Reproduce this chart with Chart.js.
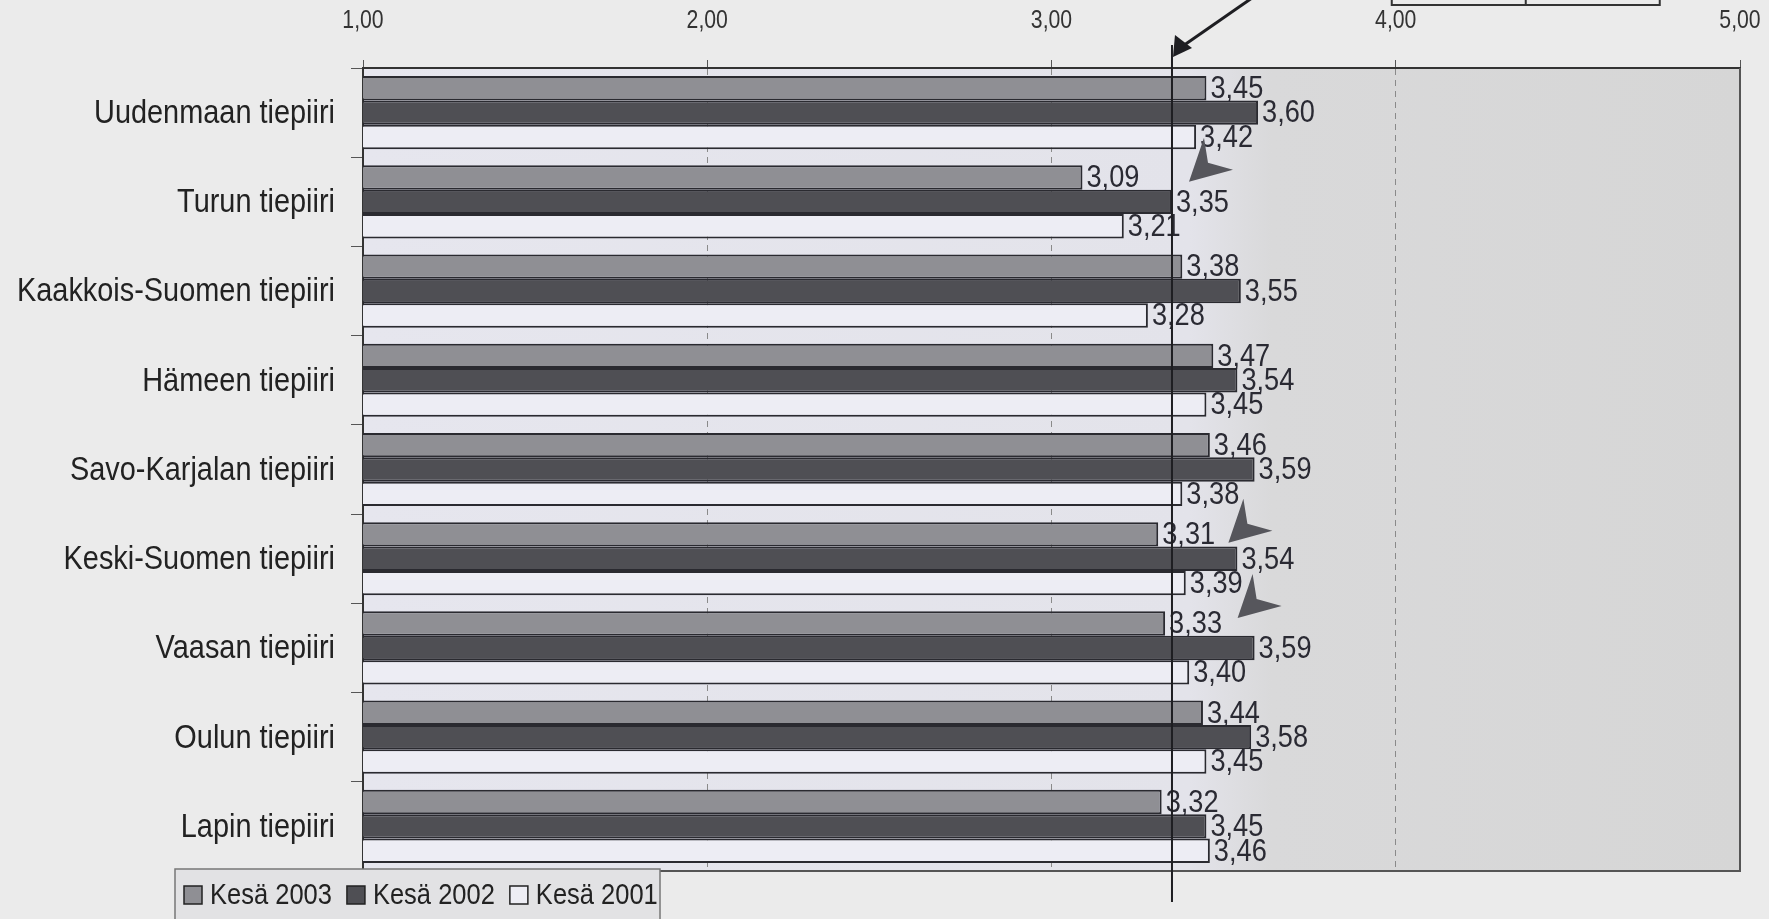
<!DOCTYPE html>
<html>
<head>
<meta charset="utf-8">
<script src="https://cdn.jsdelivr.net/npm/chart.js@4.4.1/dist/chart.umd.min.js"></script>
<style>
  html, body { margin: 0; padding: 0; background: #ebebeb; }
  #wrap { width: 1769px; height: 919px; position: relative; }
</style>
</head>
<body>
<div id="wrap"><canvas id="chart" width="1769" height="919"></canvas></div>
<script>
const categories = [
  "Uudenmaan tiepiiri",
  "Turun tiepiiri",
  "Kaakkois-Suomen tiepiiri",
  "Hämeen tiepiiri",
  "Savo-Karjalan tiepiiri",
  "Keski-Suomen tiepiiri",
  "Vaasan tiepiiri",
  "Oulun tiepiiri",
  "Lapin tiepiiri",
];
const seriesNames = ["Kesä 2003", "Kesä 2002", "Kesä 2001"];
const kesa2003 = [3.45, 3.09, 3.38, 3.47, 3.46, 3.31, 3.33, 3.44, 3.32];
const kesa2002 = [3.60, 3.35, 3.55, 3.54, 3.59, 3.54, 3.59, 3.58, 3.45];
const kesa2001 = [3.42, 3.21, 3.28, 3.45, 3.38, 3.39, 3.40, 3.45, 3.46];
const tickLabels = ["1,00", "2,00", "3,00", "4,00", "5,00"];
const refValue = 3.35;

// no narrow font installed, so squeeze Liberation Sans sideways
const FONT = "'Liberation Sans', Arial, sans-serif";
const SQUEEZE = 0.85;
const fills = ["#8f8f94", "#4f4f54", "#ededf4"];

const fmt = (v) => v.toFixed(2).replace(".", ",");

function narrowText(ctx, text, x, y, align) {
  ctx.save();
  ctx.translate(x, y);
  ctx.scale(SQUEEZE, 1);
  ctx.textAlign = align || "left";
  ctx.fillText(text, 0, 0);
  ctx.restore();
}
const narrowWidth = (ctx, text) => ctx.measureText(text).width * SQUEEZE;

// plot background, borders
const backdrop = {
  id: "backdrop",
  beforeDraw(chart) {
    const { ctx, chartArea: a } = chart;
    ctx.save();
    const g = ctx.createLinearGradient(a.left, 0, a.right, 0);
    g.addColorStop(0, "#e6e6ee");
    g.addColorStop(0.6, "#e3e3ea");
    g.addColorStop(0.66, "#d9d9da");
    g.addColorStop(1, "#d6d6d6");
    ctx.fillStyle = g;
    ctx.fillRect(a.left, a.top, a.right - a.left, a.bottom - a.top);
    ctx.restore();
  },
  afterDraw(chart) {
    const { ctx, chartArea: a } = chart;
    ctx.save();
    ctx.strokeStyle = "#555";
    ctx.lineWidth = 2;
    ctx.beginPath();
    ctx.moveTo(a.right, a.top);
    ctx.lineTo(a.right, a.bottom);
    ctx.lineTo(a.left, a.bottom);
    ctx.stroke();
    ctx.restore();
  },
};

// axis tick labels, drawn narrow at the scales' own positions
const axisLabels = {
  id: "axisLabels",
  afterDraw(chart) {
    const { ctx, scales, chartArea: a } = chart;
    ctx.save();
    ctx.textBaseline = "middle";
    ctx.fillStyle = "#333";
    ctx.font = "25px " + FONT;
    scales.x.ticks.forEach((t, i) => {
      narrowText(ctx, tickLabels[i], scales.x.getPixelForValue(t.value), 21, "center");
    });
    ctx.fillStyle = "#222";
    ctx.font = "34px " + FONT;
    categories.forEach((c, i) => {
      narrowText(ctx, c, a.left - 28, scales.y.getPixelForValue(i) + 1, "right");
    });
    ctx.restore();
  },
};

// value labels at the bar ends
const valueLabels = {
  id: "valueLabels",
  afterDatasetsDraw(chart) {
    const { ctx } = chart;
    ctx.save();
    ctx.font = "32px " + FONT;
    ctx.fillStyle = "#2a2a33";
    ctx.textBaseline = "middle";
    chart.data.datasets.forEach((ds, i) => {
      chart.getDatasetMeta(i).data.forEach((el, j) => {
        narrowText(ctx, fmt(ds.data[j]), el.x + 4, el.y + 1, "left");
      });
    });
    ctx.restore();
  },
};

function arrowHead(ctx, x, y) {
  ctx.beginPath();
  ctx.moveTo(x, y);
  ctx.lineTo(x + 15, y - 44);
  ctx.lineTo(x + 19, y - 19);
  ctx.lineTo(x + 44, y - 12);
  ctx.closePath();
  ctx.fill();
}

// reference line, pointer arrow, marks and legend
const notes = {
  id: "notes",
  afterDraw(chart) {
    const { ctx, chartArea: a, scales } = chart;
    const x = scales.x.getPixelForValue(refValue);
    ctx.save();
    ctx.strokeStyle = "#1e1e22";
    ctx.lineWidth = 2;
    ctx.beginPath();
    ctx.moveTo(x, a.top - 23);
    ctx.lineTo(x, a.bottom + 31);
    ctx.stroke();

    // pointer from above
    ctx.lineWidth = 3;
    ctx.beginPath();
    ctx.moveTo(x + 80, -2);
    ctx.lineTo(x + 8, a.top - 20);
    ctx.stroke();
    ctx.fillStyle = "#1e1e22";
    ctx.beginPath();
    ctx.moveTo(x + 1, a.top - 11);
    ctx.lineTo(x + 3, a.top - 33);
    ctx.lineTo(x + 20, a.top - 20);
    ctx.closePath();
    ctx.fill();

    // cut-off box at the top
    const bx = scales.x.getPixelForValue(4) - 4;
    ctx.lineWidth = 2;
    ctx.strokeStyle = "#333";
    ctx.beginPath();
    ctx.moveTo(bx, 0);
    ctx.lineTo(bx, 5);
    ctx.lineTo(bx + 268, 5);
    ctx.lineTo(bx + 268, 0);
    ctx.moveTo(bx + 134, 0);
    ctx.lineTo(bx + 134, 5);
    ctx.stroke();

    // marks on some 2002 bars
    const meta = chart.getDatasetMeta(1);
    ctx.fillStyle = "#56565c";
    [[1, 17, -20], [5, -9, -16], [6, -17, -30]].forEach(([i, dx, dy]) => {
      const el = meta.data[i];
      arrowHead(ctx, el.x + dx, el.y + dy);
    });
    ctx.restore();

    // legend box
    const lx = 175, ly = a.bottom - 2, lw = 485, lh = 52;
    ctx.save();
    ctx.fillStyle = "#e2e2e4";
    ctx.strokeStyle = "#777";
    ctx.lineWidth = 1.5;
    ctx.fillRect(lx, ly, lw, lh);
    ctx.strokeRect(lx, ly, lw, lh);
    ctx.font = "30px " + FONT;
    ctx.textBaseline = "middle";
    let cx = lx + 9;
    const cy = ly + lh / 2;
    chart.data.datasets.forEach((ds) => {
      ctx.fillStyle = ds.backgroundColor;
      ctx.fillRect(cx, cy - 9, 18, 18);
      ctx.strokeStyle = "#222";
      ctx.lineWidth = 1.5;
      ctx.strokeRect(cx, cy - 9, 18, 18);
      ctx.fillStyle = "#222";
      narrowText(ctx, ds.label, cx + 26, cy + 1, "left");
      cx += 26 + narrowWidth(ctx, ds.label) + 15;
    });
    ctx.restore();
  },
};

const seriesData = [kesa2003, kesa2002, kesa2001];

new Chart(document.getElementById("chart"), {
  type: "bar",
  data: {
    labels: categories,
    datasets: seriesData.map((d, i) => ({
      label: seriesNames[i],
      data: d,
      backgroundColor: fills[i],
      borderColor: "#2a2a30",
      borderWidth: 2,
      borderSkipped: "left",
      categoryPercentage: 0.82,
      barPercentage: 1.0,
    })),
  },
  options: {
    indexAxis: "y",
    responsive: false,
    animation: false,
    layout: { padding: { left: 0, right: 29, top: 0, bottom: 48 } },
    plugins: { legend: { display: false }, tooltip: { enabled: false } },
    scales: {
      x: {
        position: "top",
        min: 1,
        max: 5,
        afterFit(s) { s.height = 68; },
        afterBuildTicks(s) { s.ticks = tickLabels.map((t, i) => ({ value: i + 1 })); },
        ticks: { display: false },
        grid: {
          color: "#8a8a8a",
          lineWidth: 1,
          tickLength: 8,
          tickColor: "#555",
          drawOnChartArea: true,
        },
        border: { display: true, color: "#333", width: 2, dash: [6, 5] },
      },
      y: {
        afterFit(s) { s.width = 363; },
        ticks: { display: false },
        grid: {
          offset: true,
          drawOnChartArea: false,
          tickLength: 12,
          color: "#555",
        },
        border: { display: true, color: "#333", width: 2 },
      },
    },
  },
  plugins: [backdrop, axisLabels, valueLabels, notes],
});
</script>
</body>
</html>
